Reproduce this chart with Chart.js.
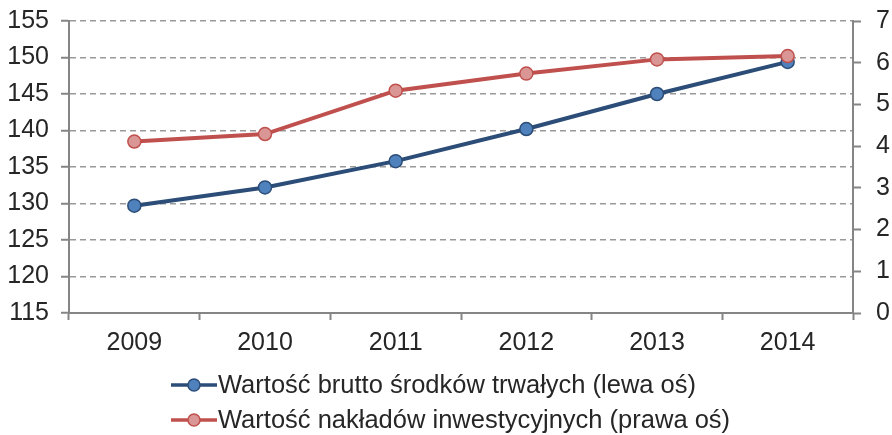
<!DOCTYPE html>
<html>
<head>
<meta charset="utf-8">
<script src="https://cdn.jsdelivr.net/npm/chart.js@4/dist/chart.umd.min.js"></script>
<style>
  html, body { margin: 0; padding: 0; background: #fff; }
  #wrap { width: 892px; height: 435px; }
</style>
</head>
<body>
<div id="wrap"><canvas id="lineChart" width="892" height="435"></canvas></div>
<script>
const years = ["2009", "2010", "2011", "2012", "2013", "2014"];
const brutto = [129.7, 132.2, 135.8, 140.2, 145.0, 149.4];
const naklady = [4.11, 4.29, 5.33, 5.74, 6.08, 6.16];
const labelBrutto = "Wartość brutto środków trwałych (lewa oś)";
const labelNaklady = "Wartość nakładów inwestycyjnych (prawa oś)";

const FONT = "'Liberation Sans', Arial, sans-serif";
const TEXT = "#262626";
const AXIS = "#858585";
const GRID = "#999999";

// legend drawn by hand: line + marker, rows left-aligned
const lineLegend = {
  id: "lineLegend",
  afterDraw(chart) {
    const ctx = chart.ctx;
    const rowsY = [385, 420];
    const x0 = 171;
    ctx.save();
    chart.data.datasets.forEach((ds, i) => {
      const y = rowsY[i];
      ctx.strokeStyle = ds.borderColor;
      ctx.lineWidth = 3.5;
      ctx.beginPath();
      ctx.moveTo(x0, y);
      ctx.lineTo(x0 + 46, y);
      ctx.stroke();
      ctx.beginPath();
      ctx.arc(x0 + 23, y, 6, 0, Math.PI * 2);
      ctx.fillStyle = ds.pointBackgroundColor;
      ctx.fill();
      ctx.lineWidth = 1.5;
      ctx.strokeStyle = ds.pointBorderColor;
      ctx.stroke();
      ctx.fillStyle = TEXT;
      ctx.font = "25.5px " + FONT;
      ctx.textBaseline = "middle";
      ctx.textAlign = "left";
      ctx.fillText(ds.label, x0 + 47, y + 1);
    });
    ctx.restore();
  }
};

var ctx = document.getElementById("lineChart").getContext("2d");

var lineChart = new Chart(ctx, {
  type: "line",
  data: {
    labels: years,
    datasets: [
      {
        label: labelBrutto,
        data: brutto,
        yAxisID: "y",
        order: 1,
        borderColor: "#2b4d77",
        borderWidth: 4,
        pointRadius: 6.5,
        pointBorderWidth: 1.5,
        pointBackgroundColor: "#4f81bd",
        pointBorderColor: "#2b4d77",
        tension: 0,
      },
      {
        label: labelNaklady,
        data: naklady,
        yAxisID: "y1",
        order: 0,
        borderColor: "#c0504d",
        borderWidth: 4,
        pointRadius: 6.5,
        pointBorderWidth: 1.5,
        pointBackgroundColor: "#d99694",
        pointBorderColor: "#c0504d",
        tension: 0,
      },
    ],
  },
  options: {
    responsive: false,
    animation: false,
    layout: { padding: { top: 21, bottom: 72, left: 0, right: 0 } },
    plugins: {
      legend: { display: false },
      tooltip: { enabled: false },
    },
    scales: {
      x: {
        offset: true,
        grid: {
          offset: true,
          drawOnChartArea: false,
          drawTicks: true,
          tickLength: 7,
          tickColor: AXIS,
          tickWidth: 2,
        },
        border: { color: AXIS, width: 2 },
        ticks: {
          color: TEXT,
          font: { family: FONT, size: 25 },
          padding: 8,
          maxRotation: 0,
        },
        afterFit(scale) { scale.height = 50; scale.paddingLeft = 0; scale.paddingRight = 0; },
      },
      y: {
        position: "left",
        min: 115,
        max: 155,
        ticks: {
          stepSize: 5,
          color: TEXT,
          font: { family: FONT, size: 25 },
          padding: 12,
        },
        grid: {
          color: GRID,
          lineWidth: 1.5,
          tickLength: 8,
          tickColor: AXIS,
          tickWidth: 2,
        },
        border: { color: AXIS, width: 2, dash: [6, 4] },
        afterFit(scale) { scale.width = 69; scale.paddingTop = 0; scale.paddingBottom = 0; },
      },
      y1: {
        position: "right",
        min: 0,
        max: 7,
        ticks: {
          stepSize: 1,
          color: TEXT,
          font: { family: FONT, size: 25 },
          padding: 15,
        },
        grid: {
          drawOnChartArea: false,
          tickLength: 8,
          tickColor: AXIS,
          tickWidth: 2,
        },
        border: { color: AXIS, width: 2 },
        afterFit(scale) { scale.width = 39; scale.paddingTop = 0; scale.paddingBottom = 0; },
      },
    },
  },
  plugins: [lineLegend],
});
</script>
</body>
</html>
